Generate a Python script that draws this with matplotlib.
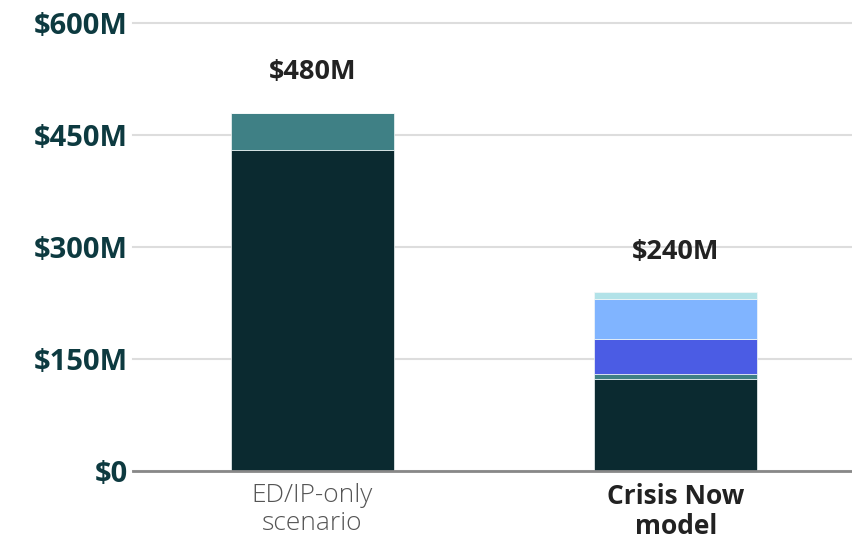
import matplotlib
matplotlib.use('Agg')
from matplotlib import pyplot as plt
import numpy as np

# cost components, $M, stacked bottom to top
scenarios = ['ED/IP-only\nscenario', 'Crisis Now\nmodel']
dark = [430, 123]
teal = [50, 7]
blue = [0, 47]
light_blue = [0, 53]
light_cyan = [0, 10]
totals = ['$480M', '$240M']

yticks = [0, 150, 300, 450, 600]
ytick_labels = ['$0', '$150M', '$300M', '$450M', '$600M']

layers = [
    (dark, '#0b2a30'),
    (teal, '#3f8085'),
    (blue, '#4b5ce4'),
    (light_blue, '#80b4ff'),
    (light_cyan, '#b2e2e8'),
]

plt.rcParams['font.family'] = ['Open Sans', 'DejaVu Sans']

fig = plt.figure(figsize=(8.53, 5.4), dpi=100)
ax = fig.add_axes([0.156, 0.128, 0.844, 0.829])

x = np.arange(len(scenarios))
width = 0.448
bottom = np.zeros(len(scenarios))
for vals, color in layers:
    vals = np.array(vals, dtype=float)
    ax.bar(x, vals, width, bottom=bottom, color=color,
           edgecolor='#f4f8f8', linewidth=0.5, zorder=3)
    bottom += vals

for xi, top, lab in zip(x, bottom, totals):
    ax.annotate(lab, (xi, top), xytext=(0, 29), textcoords='offset points',
                ha='center', va='center', fontsize=19.5, fontweight='bold',
                color='#222222')

ax.set_xlim(-0.493, 1.487)
ax.set_ylim(0, 600)
ax.set_yticks(yticks)
ax.set_yticklabels(ytick_labels, fontsize=21, fontweight='bold',
                   color='#0d3a40')
ax.tick_params(axis='y', length=0, pad=4)
ax.yaxis.grid(True, color='#dddddd', linewidth=1.5, zorder=0)
for gl in ax.get_ygridlines():
    gl.set_clip_on(False)

ax.set_xticks(x)
ax.set_xticklabels(scenarios, fontsize=19, linespacing=1.12)
ax.tick_params(axis='x', length=0, pad=9)
xl = ax.get_xticklabels()
xl[0].set_color('#555555')
xl[0].set_fontweight('light')
xl[1].set_color('#222222')
xl[1].set_fontweight('bold')

for s in ['top', 'right', 'left']:
    ax.spines[s].set_visible(False)
ax.spines['bottom'].set_color('#888888')
ax.spines['bottom'].set_linewidth(2)
ax.spines['bottom'].set_zorder(4)

fig.savefig('out.png', dpi=100)
